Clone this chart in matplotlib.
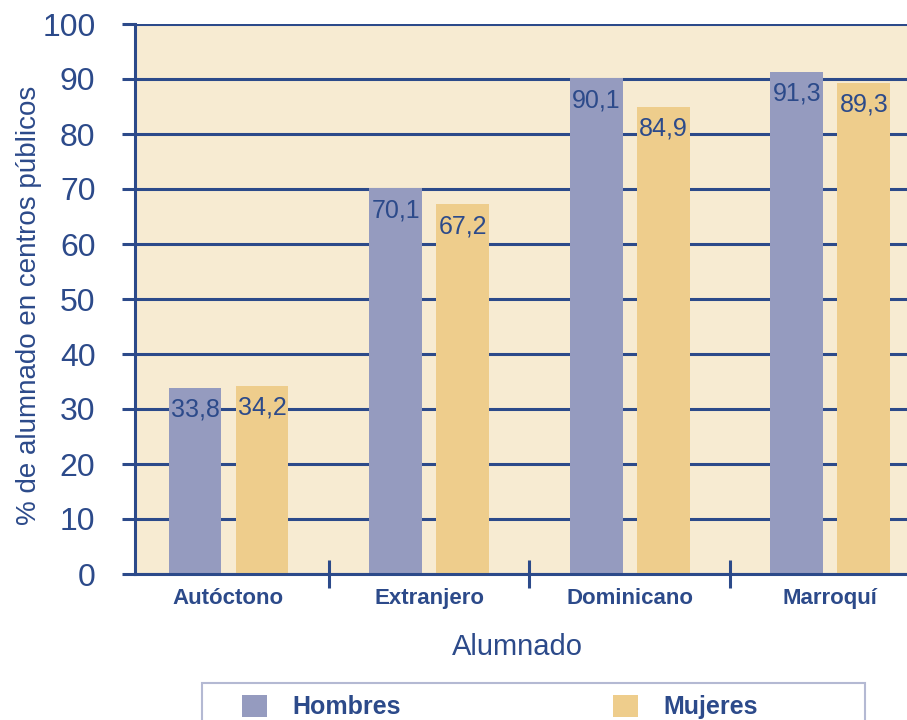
import matplotlib
matplotlib.use("Agg")
import matplotlib.pyplot as plt
from matplotlib.patches import Rectangle, Patch
import numpy as np

categories = ["Autóctono", "Extranjero", "Dominicano", "Marroquí"]
hombres = [33.8, 70.1, 90.1, 91.3]
mujeres = [34.2, 67.2, 84.9, 89.3]
labels_h = ["33,8", "70,1", "90,1", "91,3"]
labels_m = ["34,2", "67,2", "84,9", "89,3"]
yticks = list(range(0, 101, 10))

NAVY = "#2c4a8a"
C_H = "#959bbf"
C_M = "#eecd8c"
BG = "#f7ebd2"

plt.rcParams['font.family'] = ['Liberation Sans', 'DejaVu Sans']

fig = plt.figure(figsize=(9.07, 7.2), dpi=100)
fig.patch.set_facecolor("white")
ax = fig.add_axes([135/907, 146/720, 1 - 135/907, 550/720])
ax.set_facecolor(BG)

x = np.arange(len(categories))
w = 0.264
off = 0.167
bh = ax.bar(x - off, hombres, width=w, color=C_H, zorder=1)
bm = ax.bar(x + off, mujeres, width=w, color=C_M, zorder=1)

for rect, lab in zip(bh, labels_h):
    ax.annotate(lab, (rect.get_x() + rect.get_width()/2, rect.get_height()),
                xytext=(0, -7), textcoords="offset points", ha="center", va="top",
                fontsize=18, color=NAVY)
for rect, lab in zip(bm, labels_m):
    ax.annotate(lab, (rect.get_x() + rect.get_width()/2, rect.get_height()),
                xytext=(0, -7), textcoords="offset points", ha="center", va="top",
                fontsize=18, color=NAVY)

ax.set_xlim(-0.466, 3.382)
ax.set_ylim(0, 100)
ax.set_yticks(yticks)
ax.set_yticklabels([str(v) for v in yticks], fontsize=23, color=NAVY)
ax.yaxis.grid(True, color=NAVY, linewidth=2.2)
ax.set_axisbelow(True)
ax.tick_params(axis="y", length=9.5, width=2.2, color=NAVY, pad=19)

ax.set_xticks(x)
ax.set_xticklabels(categories, fontsize=16, fontweight="bold", color=NAVY)
ax.tick_params(axis="x", which="major", length=0, pad=10)
ax.set_xticks(x[:-1] + 0.5, minor=True)
ax.tick_params(axis="x", which="minor", length=20, width=2.2, color=NAVY, direction="inout")

for s in ["top", "right"]:
    ax.spines[s].set_visible(False)
for s in ["left", "bottom"]:
    ax.spines[s].set_color(NAVY)
    ax.spines[s].set_linewidth(2.2)

ax.set_ylabel("% de alumnado en centros públicos", fontsize=20, color=NAVY)
ax.yaxis.set_label_coords(-0.1205, 0.489)
ax.set_xlabel("Alumnado", fontsize=21, color=NAVY)
ax.xaxis.set_label_coords(0.495, -0.107)

# legend frame
frame = Rectangle((202/907, -0.05), (865-202)/907, 0.05 + 37/720,
                  transform=fig.transFigure, facecolor="white",
                  edgecolor="#b4b9d3", linewidth=1.5, zorder=0)
fig.add_artist(frame)

handles = [Patch(facecolor=C_H), Patch(facecolor=C_M)]
leg = fig.legend(handles, ["Hombres", "Mujeres"], ncol=2, frameon=False,
                 loc="center left", bbox_to_anchor=(242/907, 13/720),
                 borderaxespad=0, borderpad=0, handlelength=1.0, handleheight=1.0,
                 handletextpad=1.0, columnspacing=8.5,
                 prop={"size": 18, "weight": "bold"})
for t in leg.get_texts():
    t.set_color(NAVY)

fig.savefig("out.png", dpi=100)
